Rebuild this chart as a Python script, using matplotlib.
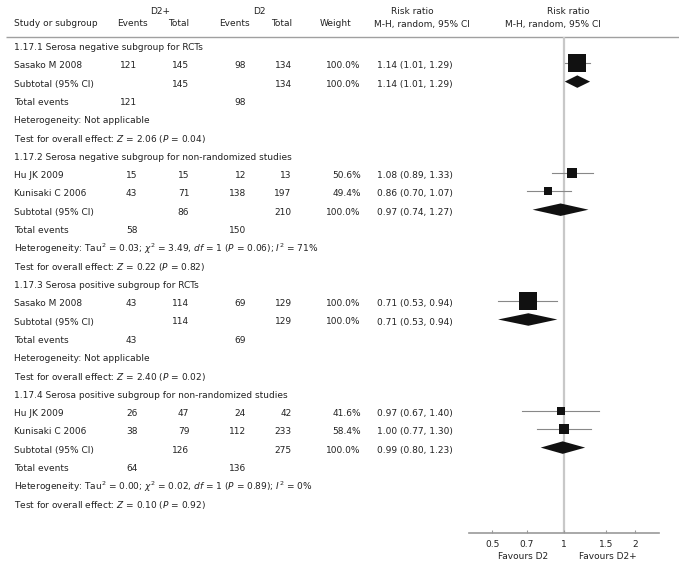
import matplotlib
matplotlib.use('Agg')
import matplotlib.pyplot as plt
from matplotlib.ticker import FixedLocator, FixedFormatter, NullLocator

# ---- data ----
section_titles = ['1.17.1 Serosa negative subgroup for RCTs',
                  '1.17.2 Serosa negative subgroup for non-randomized studies',
                  '1.17.3 Serosa positive subgroup for RCTs',
                  '1.17.4 Serosa positive subgroup for non-randomized studies']
study_names = [['Sasako M 2008'], ['Hu JK 2009', 'Kunisaki C 2006'],
               ['Sasako M 2008'], ['Hu JK 2009', 'Kunisaki C 2006']]
d2p_events = [[121], [15, 43], [43], [26, 38]]
d2p_total = [[145], [15, 71], [114], [47, 79]]
d2_events = [[98], [12, 138], [69], [24, 112]]
d2_total = [[134], [13, 197], [129], [42, 233]]
weights = [[100.0], [50.6, 49.4], [100.0], [41.6, 58.4]]
rr = [[1.14], [1.08, 0.86], [0.71], [0.97, 1.00]]
rr_lo = [[1.01], [0.89, 0.70], [0.53], [0.67, 0.77]]
rr_hi = [[1.29], [1.33, 1.07], [0.94], [1.40, 1.30]]

sub_d2p_total = [145, 86, 114, 126]
sub_d2_total = [134, 210, 129, 275]
sub_rr = [1.14, 0.97, 0.71, 0.99]
sub_lo = [1.01, 0.74, 0.53, 0.80]
sub_hi = [1.29, 1.27, 0.94, 1.23]
tot_d2p_events = [121, 58, 43, 64]
tot_d2_events = [98, 150, 69, 136]

het_tau2 = [None, 0.03, None, 0.00]
het_chi2 = [None, 3.49, None, 0.02]
het_df = [None, 1, None, 1]
het_p = [None, 0.06, None, 0.89]
het_i2 = [None, 71, None, 0]
overall_z = [2.06, 0.22, 2.40, 0.10]
overall_p = [0.04, 0.82, 0.02, 0.92]

xticks = [0.5, 0.7, 1, 1.5, 2]
xtick_labels = ['0.5', '0.7', '1', '1.5', '2']

# ---- style ----
plt.rcParams['font.family'] = 'DejaVu Sans'
plt.rcParams['mathtext.fontset'] = 'dejavusans'
FS = 6.5
TXT = '#222222'
MARK = '#111111'

W, H = 679, 567
fig = plt.figure(figsize=(W / 100, H / 100), dpi=100)

# text layer in pixel coordinates
tax = fig.add_axes([0, 0, 1, 1])
tax.set_xlim(0, W)
tax.set_ylim(H, 0)
tax.axis('off')

# forest layer: log x, pixel y
AX_L, AX_R = 469.0, 658.5
fax = fig.add_axes([AX_L / W, 0, (AX_R - AX_L) / W, 1])
fax.set_xscale('log')
fax.set_xlim(0.4, 2.5)
fax.set_ylim(H, 0)
fax.patch.set_alpha(0)
for s in ['top', 'left', 'right']:
  fax.spines[s].set_visible(False)
AXIS_Y = 532.7
fax.spines['bottom'].set_position(('data', AXIS_Y))
fax.spines['bottom'].set_color('#999999')
fax.spines['bottom'].set_linewidth(1.2)
fax.xaxis.set_major_locator(FixedLocator(xticks))
fax.xaxis.set_major_formatter(FixedFormatter(xtick_labels))
fax.xaxis.set_minor_locator(NullLocator())
fax.tick_params(axis='x', direction='in', length=2.4, width=0.8, color='#999999',
                labelsize=FS, labelcolor=TXT, pad=5.5)
fax.set_yticks([])

def txt(x, y, s, ha='left'):
  tax.text(x, y, s, ha=ha, va='center', fontsize=FS, color=TXT)

# columns
X_LABEL = 14
X_EV1, X_TOT1, X_EV2, X_TOT2 = 137.3, 189.3, 246.0, 291.7
X_WT = 360.7
X_CI = 377.0

# headers
txt(160, 11, 'D2+', 'center')
txt(259.5, 11, 'D2', 'center')
txt(412.7, 11, 'Risk ratio', 'center')
txt(568.7, 11, 'Risk ratio', 'center')
txt(X_LABEL, 24, 'Study or subgroup')
txt(132, 24, 'Events', 'center')
txt(179, 24, 'Total', 'center')
txt(234.5, 24, 'Events', 'center')
txt(282, 24, 'Total', 'center')
txt(335.5, 24, 'Weight', 'center')
txt(422, 24, 'M-H, random, 95% CI', 'center')
txt(552.5, 24, 'M-H, random, 95% CI', 'center')

HEAD_Y = 36.7
tax.hlines(HEAD_Y, 6, W, color='#a0a0a0', lw=1.0)
fax.vlines(1, HEAD_Y, AXIS_Y, color='#c8c8c8', lw=1.6, zorder=0)

Y0, STEP = 47.5, 18.3
MARK_OFF = -2.5
DIA_H = 12.5
row = 0
for s in range(len(section_titles)):
  txt(X_LABEL, Y0 + STEP * row, section_titles[s])
  row += 1
  for k, name in enumerate(study_names[s]):
    y = Y0 + STEP * row
    txt(X_LABEL, y, name)
    txt(X_EV1, y, str(d2p_events[s][k]), 'right')
    txt(X_TOT1, y, str(d2p_total[s][k]), 'right')
    txt(X_EV2, y, str(d2_events[s][k]), 'right')
    txt(X_TOT2, y, str(d2_total[s][k]), 'right')
    txt(X_WT, y, '%.1f%%' % weights[s][k], 'right')
    txt(X_CI, y, '%.2f (%.2f, %.2f)' % (rr[s][k], rr_lo[s][k], rr_hi[s][k]))
    ym = y + MARK_OFF
    fax.plot([rr_lo[s][k], rr_hi[s][k]], [ym, ym], color='#888888', lw=0.8, zorder=2)
    side = 18 * weights[s][k] / 100.0
    fax.plot([rr[s][k]], [ym], marker='s', ms=side * 0.72, mew=0, color=MARK,
             linestyle='none', zorder=3)
    row += 1
  # subtotal
  y = Y0 + STEP * row
  txt(X_LABEL, y, 'Subtotal (95% CI)')
  txt(X_TOT1, y, str(sub_d2p_total[s]), 'right')
  txt(X_TOT2, y, str(sub_d2_total[s]), 'right')
  txt(X_WT, y, '100.0%', 'right')
  txt(X_CI, y, '%.2f (%.2f, %.2f)' % (sub_rr[s], sub_lo[s], sub_hi[s]))
  ym = y + MARK_OFF
  fax.fill([sub_lo[s], sub_rr[s], sub_hi[s], sub_rr[s]],
           [ym, ym - DIA_H / 2, ym, ym + DIA_H / 2], color=MARK, lw=0, zorder=3)
  row += 1
  # total events
  y = Y0 + STEP * row
  txt(X_LABEL, y, 'Total events')
  txt(X_EV1, y, str(tot_d2p_events[s]), 'right')
  txt(X_EV2, y, str(tot_d2_events[s]), 'right')
  row += 1
  # heterogeneity
  y = Y0 + STEP * row
  if het_tau2[s] is None:
    txt(X_LABEL, y, 'Heterogeneity: Not applicable')
  else:
    txt(X_LABEL, y, 'Heterogeneity: Tau$^2$ = %.2f; $\\chi^2$ = %.2f, $df$ = %d ($P$ = %.2f); $I^2$ = %d%%'
        % (het_tau2[s], het_chi2[s], het_df[s], het_p[s], het_i2[s]))
  row += 1
  y = Y0 + STEP * row
  txt(X_LABEL, y, 'Test for overall effect: $Z$ = %.2f ($P$ = %.2f)' % (overall_z[s], overall_p[s]))
  row += 1

txt(523, 556.7, 'Favours D2', 'center')
txt(608.3, 556.7, 'Favours D2+', 'center')

fig.savefig('out.png', dpi=100)
